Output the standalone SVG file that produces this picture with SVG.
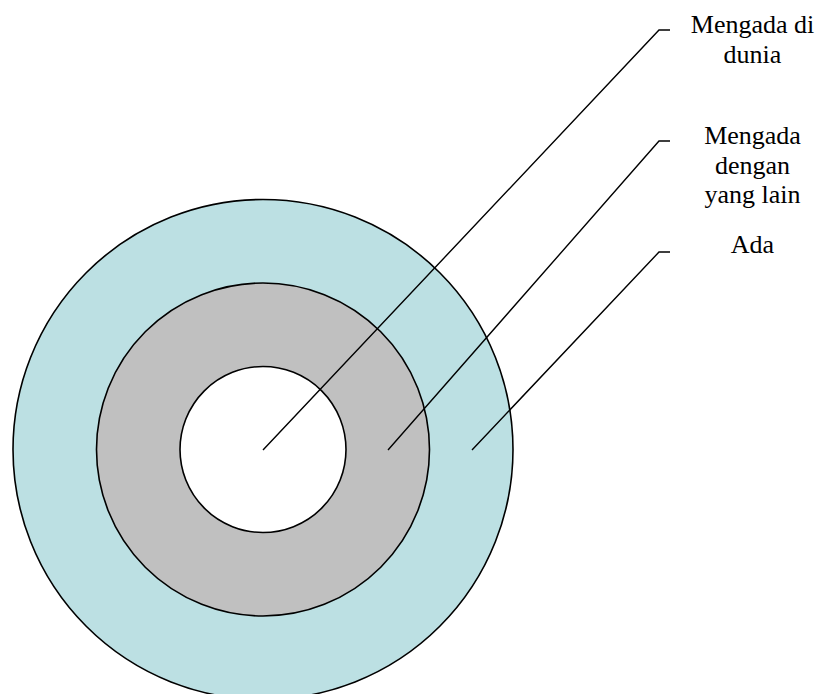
<svg xmlns="http://www.w3.org/2000/svg" width="820" height="694" viewBox="0 0 820 694">
<style>
.ring{stroke:#000;stroke-width:1.6}
.lead{fill:none;stroke:#000;stroke-width:1.4}
.lbl{font-family:"Liberation Serif","Times New Roman",serif;font-size:26px;fill:#000;text-anchor:middle}
</style>
<rect width="820" height="694" fill="#fff"/>
<g id="ada"><circle class="ring" cx="263" cy="449.5" r="250" fill="#BCE0E3"/></g>
<g id="mengada-dengan-yang-lain"><circle class="ring" cx="263" cy="449.5" r="166.5" fill="#C0C0C0"/></g>
<g id="mengada-di-dunia"><circle class="ring" cx="263" cy="449.5" r="83" fill="#FFFFFF"/></g>
<g id="connectors">
<polyline class="lead" points="263,450 659,30 670,30"/>
<polyline class="lead" points="388,450 659,141 670,141"/>
<polyline class="lead" points="472,450 659,252 670,252"/>
</g>
<g id="label-dunia">
<text class="lbl" x="752.5" y="33">Mengada di</text>
<text class="lbl" x="752.5" y="62.5">dunia</text>
</g>
<g id="label-lain">
<text class="lbl" x="752.5" y="144">Mengada</text>
<text class="lbl" x="752.5" y="173.5">dengan</text>
<text class="lbl" x="752.5" y="202.5">yang lain</text>
</g>
<g id="label-ada">
<text class="lbl" x="752.5" y="253">Ada</text>
</g>
</svg>
